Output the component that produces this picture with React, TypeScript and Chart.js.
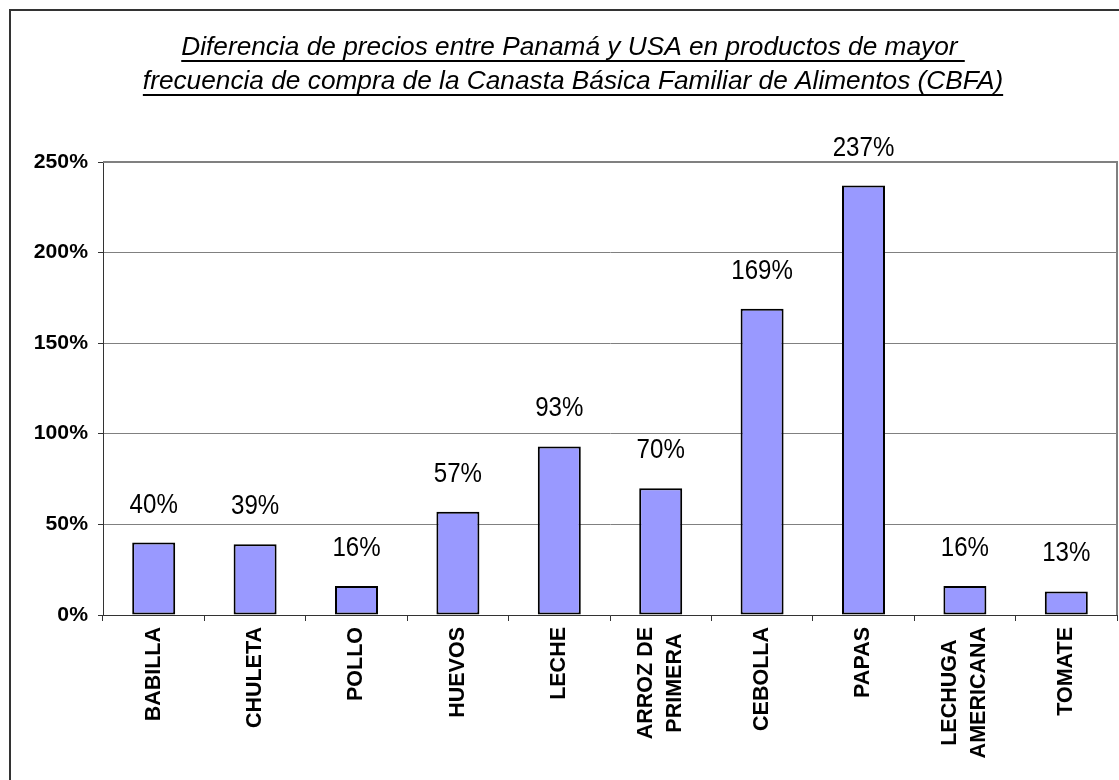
import React, { useEffect, useRef } from "react";
import { Chart, registerables } from "chart.js";

Chart.register(...registerables);

const categories: (string | string[])[] = [
  "BABILLA",
  "CHULETA",
  "POLLO",
  "HUEVOS",
  "LECHE",
  ["ARROZ DE", "PRIMERA"],
  "CEBOLLA",
  "PAPAS",
  ["LECHUGA", "AMERICANA"],
  "TOMATE",
];
const values = [40, 39, 16, 57, 93, 70, 169, 237, 16, 13];
const yTicks = [0, 50, 100, 150, 200, 250];
const titleLines = [
  "Diferencia de precios entre Panamá y USA en productos de mayor ",
  "frecuencia de compra de la Canasta Básica Familiar de Alimentos (CBFA)",
];

const W = 1119;
const H = 780;
const FONT = "'Liberation Sans', Arial, Helvetica, sans-serif";

function drawScaled(ctx: CanvasRenderingContext2D, text: string, x: number, y: number, sx: number) {
  ctx.save();
  ctx.translate(x, y);
  ctx.scale(sx, 1);
  ctx.fillText(text, 0, 0);
  ctx.restore();
}

const decor = {
  id: "decor",
  beforeDraw(chart: any) {
    const ctx: CanvasRenderingContext2D = chart.ctx;
    ctx.save();
    ctx.fillStyle = "#ffffff";
    ctx.fillRect(0, 0, W, H);
    ctx.fillStyle = "#333333";
    ctx.fillRect(9, 9, W, 2);
    ctx.fillRect(9, 9, 2, H);
    ctx.restore();
  },
  afterDraw(chart: any) {
    const ctx: CanvasRenderingContext2D = chart.ctx;
    const { left, right, top, bottom } = chart.chartArea;
    ctx.save();
    // plot area border (top / right)
    ctx.strokeStyle = "#808080";
    ctx.lineWidth = 2;
    ctx.beginPath();
    ctx.moveTo(left, top);
    ctx.lineTo(right, top);
    ctx.lineTo(right, bottom);
    ctx.stroke();

    ctx.fillStyle = "#000000";
    // y tick labels
    const ys = chart.scales.y;
    ctx.font = `bold 20px ${FONT}`;
    ctx.textAlign = "right";
    ctx.textBaseline = "middle";
    yTicks.forEach((v) => drawScaled(ctx, v + "%", left - 15, ys.getPixelForValue(v), 1.06));

    // x category labels (rotated)
    const xs = chart.scales.x;
    ctx.font = `bold 21.5px ${FONT}`;
    categories.forEach((c, i) => {
      const lines = Array.isArray(c) ? c : [c];
      const maxLen = Math.max(...lines.map((l) => ctx.measureText(l).width));
      const cx = xs.getPixelForValue(i);
      const cy = bottom + 12 + maxLen / 2;
      lines.forEach((l, j) => {
        ctx.save();
        ctx.translate(cx + (j - (lines.length - 1) / 2) * 29, cy);
        ctx.rotate(-Math.PI / 2);
        ctx.textAlign = "center";
        ctx.textBaseline = "middle";
        ctx.fillText(l, 0, 0);
        ctx.restore();
      });
    });

    // data labels
    const meta = chart.getDatasetMeta(0);
    ctx.font = `28px ${FONT}`;
    ctx.textAlign = "center";
    ctx.textBaseline = "alphabetic";
    meta.data.forEach((bar: any, i: number) => {
      drawScaled(ctx, values[i] + "%", bar.x, bar.y - 30, 0.86);
    });

    // title (italic, underlined)
    ctx.font = `italic 25px ${FONT}`;
    ctx.textAlign = "left";
    const sx = 1.05;
    const cxT = 573;
    const baselines = [54.5, 88.5];
    titleLines.forEach((t, k) => {
      const w = ctx.measureText(t).width * sx;
      const x0 = cxT - w / 2;
      drawScaled(ctx, t, x0, baselines[k], sx);
      ctx.fillRect(x0, baselines[k] + 5.5, w, 2);
    });
    ctx.restore();
  },
};

export default function App() {
  const ref = useRef<HTMLCanvasElement | null>(null);
  useEffect(() => {
    if (!ref.current) return;
    const chart = new Chart(ref.current, {
      type: "bar",
      data: {
        labels: categories.map((c) => (Array.isArray(c) ? c.join(" ") : c)),
        datasets: [
          {
            data: values,
            backgroundColor: "#9999FF",
            borderColor: "#000000",
            borderWidth: 2,
            borderSkipped: false,
            categoryPercentage: 1,
            barPercentage: 0.424,
          },
        ],
      },
      options: {
        animation: false,
        responsive: false,
        devicePixelRatio: 1,
        layout: { padding: { left: 98, top: 162, right: 2, bottom: 159 } },
        plugins: {
          legend: { display: false },
          title: { display: false },
          tooltip: { enabled: false },
        },
        scales: {
          x: {
            grid: {
              display: true,
              drawOnChartArea: false,
              drawTicks: true,
              tickLength: 6,
              color: "#333333",
              offset: true,
            },
            border: { display: true, color: "#333333", width: 1 },
            ticks: { display: false },
          },
          y: {
            min: 0,
            max: 250,
            grid: {
              color: "#808080",
              tickColor: "#333333",
              drawTicks: true,
              tickLength: 5,
              lineWidth: 1,
            },
            border: { display: true, color: "#333333", width: 1 },
            ticks: { display: false, stepSize: 50 },
          },
        },
      },
      plugins: [decor],
    });
    return () => chart.destroy();
  }, []);
  return (
    <div style={{ position: "absolute", left: 0, top: 0, width: W, height: H }}>
      <canvas ref={ref} width={W} height={H} style={{ width: W, height: H, display: "block" }} />
    </div>
  );
}
